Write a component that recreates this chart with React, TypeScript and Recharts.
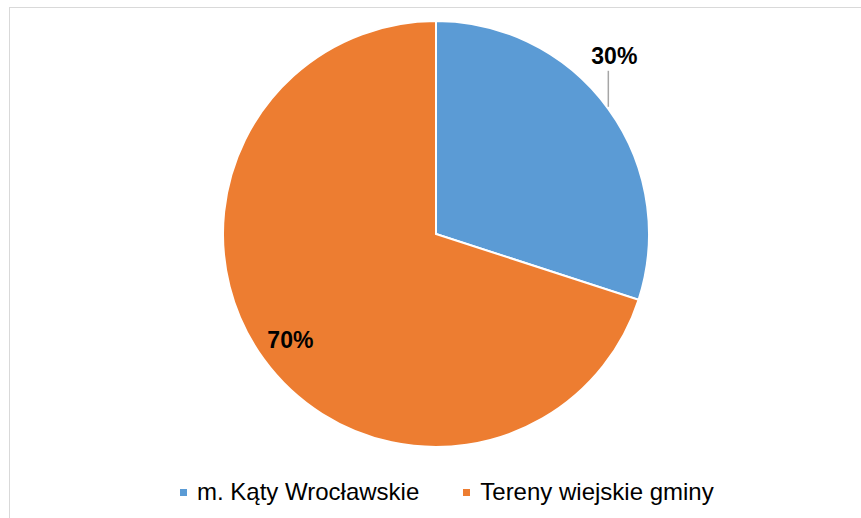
import React from 'react';
import { PieChart, Pie, Cell, Legend } from 'recharts';

const categories = ['m. Kąty Wrocławskie', 'Tereny wiejskie gminy'];
const values = [30, 70];
const percentLabels = ['30%', '70%'];
const colors = ['#5B9BD5', '#ED7D31'];

const data = categories.map((name, i) => ({ name, value: values[i], label: percentLabels[i] }));

const RAD = Math.PI / 180;

const renderLabel = (props: any) => {
  const { cx, cy, midAngle, outerRadius, index } = props;
  const cos = Math.cos(-midAngle * RAD);
  const sin = Math.sin(-midAngle * RAD);
  if (index === 0) {
    const x0 = cx + outerRadius * cos;
    const y0 = cy + outerRadius * sin;
    const y1 = y0 - 38;
    return (
      <g>
        <line x1={x0} y1={y0 - 2} x2={x0} y2={y1} stroke="#a6a6a6" strokeWidth={1.5} />
        <text
          x={x0 + 6}
          y={y1 - 7}
          textAnchor="middle"
          fontFamily="'Liberation Sans', Arial, sans-serif"
          fontWeight="bold"
          fontSize={23}
          fill="#000"
        >
          {data[index].label}
        </text>
      </g>
    );
  }
  const r = outerRadius * 0.845;
  const x = cx + r * cos;
  const y = cy + r * sin;
  return (
    <text
      x={x}
      y={y}
      textAnchor="middle"
      dominantBaseline="central"
      fontFamily="'Liberation Sans', Arial, sans-serif"
      fontWeight="bold"
      fontSize={23}
      fill="#000"
    >
      {data[index].label}
    </text>
  );
};

const renderLegend = () => {
  return (
    <div
      style={{
        display: 'flex',
        alignItems: 'center',
        paddingLeft: 180,
        fontFamily: "'Liberation Sans', Arial, sans-serif",
        fontSize: 24,
        color: '#000',
        lineHeight: '28px',
      }}
    >
      {categories.map((name, i) => (
        <div key={name} style={{ display: 'flex', alignItems: 'center', marginRight: 44 }}>
          <span style={{ display: 'inline-block', width: 7, height: 7, background: colors[i], marginRight: 10 }} />
          <span>{name}</span>
        </div>
      ))}
    </div>
  );
};

export default function App() {
  return (
    <div style={{ position: 'absolute', left: 0, top: 0, width: 861, height: 518, overflow: 'hidden', background: '#fff' }}>
      <div
        style={{
          position: 'absolute',
          left: 9,
          top: 7,
          width: 900,
          height: 600,
          border: '1px solid #d9d9d9',
          boxSizing: 'border-box',
        }}
      />
      <div style={{ position: 'absolute', left: 0, top: 0 }}>
        <PieChart width={861} height={518} margin={{ top: 0, right: 0, bottom: 0, left: 0 }}>
          <Pie
            data={data}
            dataKey="value"
            nameKey="name"
            cx={436}
            cy={234}
            outerRadius={213}
            startAngle={90}
            endAngle={-270}
            stroke="#ffffff"
            strokeWidth={2}
            label={renderLabel}
            labelLine={false}
            isAnimationActive={false}
          >
            {data.map((d, i) => (
              <Cell key={d.name} fill={colors[i]} />
            ))}
          </Pie>
          <Legend
            content={renderLegend}
            wrapperStyle={{ left: 0, top: 478, width: 861 }}
          />
        </PieChart>
      </div>
    </div>
  );
}
